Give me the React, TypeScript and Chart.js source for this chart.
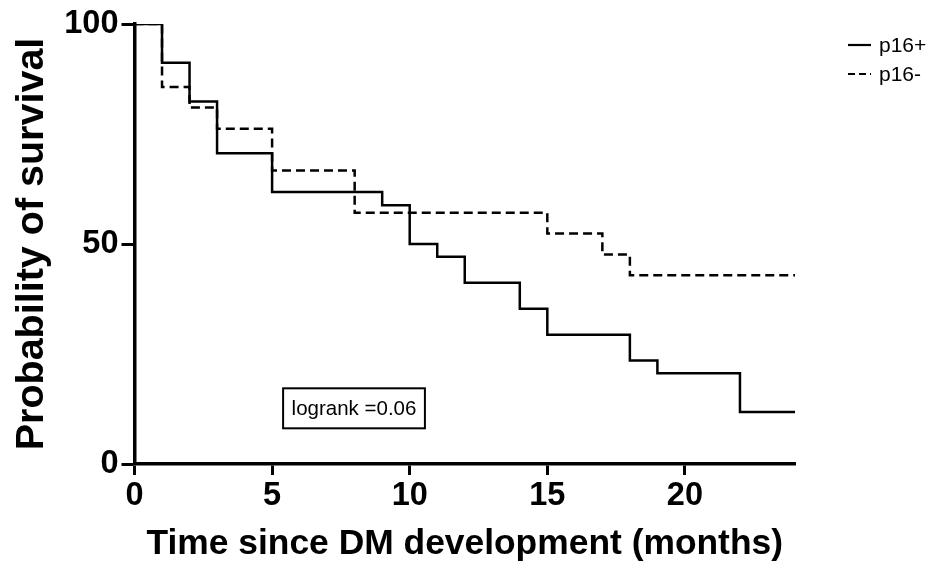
import React, { useEffect, useRef } from "react";
import { Chart, registerables } from "chart.js";

Chart.register(...registerables);

// Kaplan-Meier step points (time in months, survival %)
const p16PosTimes = [0, 1, 2, 3, 5, 9, 10, 11, 12, 14, 15, 18, 19, 22, 24];
const p16PosSurvival = [100, 91.2, 82.4, 70.6, 61.8, 58.8, 50, 47.1, 41.2, 35.3, 29.4, 23.5, 20.6, 11.8, 11.8];

const p16NegTimes = [0, 1, 2, 3, 5, 8, 15, 17, 18, 24];
const p16NegSurvival = [100, 85.7, 81.0, 76.2, 66.7, 57.1, 52.4, 47.6, 42.9, 42.9];

const seriesLabels = ["p16+", "p16-"];
const xTicks = [0, 5, 10, 15, 20];
const yTicks = [0, 50, 100];
const annotationText = "logrank =0.06";

const FONT = "'Liberation Sans', Arial, Helvetica, sans-serif";

export default function App() {
  const ref = useRef<HTMLCanvasElement | null>(null);

  useEffect(() => {
    const canvas = ref.current;
    if (!canvas) return;

    const toXY = (t: number[], s: number[]) => t.map((x, i) => ({ x, y: s[i] }));

    const overlay = {
      id: "overlay",
      afterDraw(chart: any) {
        const ctx = chart.ctx;
        const xs = chart.scales.x;
        const ys = chart.scales.y;
        ctx.save();
        // legend
        ctx.font = `21px ${FONT}`;
        ctx.fillStyle = "#000";
        ctx.textBaseline = "middle";
        ctx.textAlign = "left";
        const legendY = [45, 74];
        const dashes = [[], [7, 4]];
        seriesLabels.forEach((lab, i) => {
          ctx.beginPath();
          ctx.setLineDash(dashes[i]);
          ctx.lineWidth = 2.2;
          ctx.strokeStyle = "#000";
          ctx.moveTo(848, legendY[i]);
          ctx.lineTo(871, legendY[i]);
          ctx.stroke();
          ctx.setLineDash([]);
          ctx.fillText(lab, 879, legendY[i] + 1);
        });
        // annotation box
        ctx.font = `20.5px ${FONT}`;
        const bx = xs.getPixelForValue(5.4);
        const by = ys.getPixelForValue(17.2);
        const tw = ctx.measureText(annotationText).width;
        const bw = tw + 17;
        const bh = 40;
        ctx.lineWidth = 2;
        ctx.strokeRect(bx, by, bw, bh);
        ctx.fillText(annotationText, bx + 8.5, by + bh / 2 + 1);
        ctx.restore();
      },
    };

    const chart = new Chart(canvas, {
      type: "line",
      data: {
        datasets: [
          {
            label: seriesLabels[0],
            data: toXY(p16PosTimes, p16PosSurvival),
            borderColor: "#000",
            borderWidth: 2.5,
            stepped: "before",
            pointRadius: 0,
            fill: false,
          },
          {
            label: seriesLabels[1],
            data: toXY(p16NegTimes, p16NegSurvival),
            borderColor: "#000",
            borderWidth: 2.5,
            borderDash: [9, 5],
            stepped: "before",
            pointRadius: 0,
            fill: false,
          },
        ],
      },
      options: {
        responsive: false,
        animation: false,
        devicePixelRatio: 1,
        layout: { padding: { left: 0, right: 156, top: 24, bottom: 0 } },
        plugins: {
          legend: { display: false },
          tooltip: { enabled: false },
        },
        scales: {
          x: {
            type: "linear",
            min: 0,
            max: 24,
            afterBuildTicks: (scale: any) => {
              scale.ticks = xTicks.map((v) => ({ value: v }));
            },
            afterFit: (scale: any) => {
              scale.height = 101;
            },
            ticks: {
              font: { family: FONT, size: 32.5, weight: "bold" },
              color: "#000",
              padding: 2,
              maxRotation: 0,
            },
            grid: {
              display: true,
              drawOnChartArea: false,
              drawTicks: true,
              tickLength: 11,
              tickWidth: 3,
              tickColor: "#000",
            },
            border: { display: true, color: "#000", width: 3.5 },
            title: {
              display: true,
              text: "Time since DM development (months)",
              font: { family: FONT, size: 35.4, weight: "bold" },
              color: "#000",
              padding: { top: 0, bottom: 0 },
            },
          },
          y: {
            type: "linear",
            min: 0,
            max: 100,
            afterBuildTicks: (scale: any) => {
              scale.ticks = yTicks.map((v) => ({ value: v }));
            },
            afterFit: (scale: any) => {
              scale.width = 134.5;
            },
            ticks: {
              font: { family: FONT, size: 32.5, weight: "bold" },
              color: "#000",
              padding: 3,
            },
            grid: {
              display: true,
              drawOnChartArea: false,
              drawTicks: true,
              tickLength: 13,
              tickWidth: 3,
              tickColor: "#000",
            },
            border: { display: true, color: "#000", width: 3.5 },
            title: {
              display: true,
              text: "Probability of survival",
              font: { family: FONT, size: 39.5, weight: "bold" },
              color: "#000",
              padding: { top: 8, bottom: 4 },
            },
          },
        },
      },
      plugins: [overlay],
    } as any);

    return () => chart.destroy();
  }, []);

  return (
    <div style={{ position: "absolute", left: 0, top: 0, width: 951, height: 565, background: "#fff" }}>
      <canvas ref={ref} width={951} height={565} style={{ display: "block" }} />
    </div>
  );
}
